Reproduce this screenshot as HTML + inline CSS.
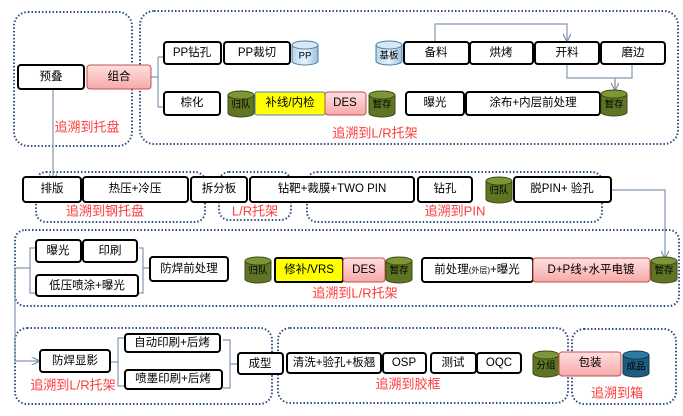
<!DOCTYPE html>
<html><head><meta charset="utf-8"><style>
html,body{margin:0;padding:0;background:#fff;width:683px;height:416px;overflow:hidden}
svg{display:block}
text{font-family:"Liberation Sans","Noto Sans CJK SC",sans-serif;font-size:11.5px;fill:#000;text-anchor:middle;dominant-baseline:central}
.r{fill:#ff3b3b;font-size:13px}
.b{fill:#fff;stroke:#000;stroke-width:2}
.p{fill:url(#pk);stroke:#c0504d;stroke-width:1}
.y{fill:#ffff00;stroke:#4f81bd;stroke-width:1}
.d{fill:none;stroke:#2f4f85;stroke-width:2;stroke-dasharray:1.5 2}
.c{fill:none;stroke:#8497b0;stroke-width:1.2}
.s{font-size:9.5px}
</style></head><body>
<svg width="683" height="416" viewBox="0 0 683 416" xmlns="http://www.w3.org/2000/svg">
<defs>
<linearGradient id="pk" x1="0" y1="0" x2="0" y2="1"><stop offset="0" stop-color="#ffe0e0"/><stop offset="1" stop-color="#f7a9a9"/></linearGradient>
<linearGradient id="bl" x1="0" y1="0" x2="1" y2="0"><stop offset="0" stop-color="#b8d6ea"/><stop offset=".5" stop-color="#e6f2fa"/><stop offset="1" stop-color="#9cc2dc"/></linearGradient>
<marker id="ar" viewBox="0 0 10 10" refX="9" refY="5" markerWidth="7" markerHeight="7" orient="auto"><path d="M0,0 L10,5 L0,10" fill="none" stroke="#8497b0" stroke-width="1.5"/></marker>
<g id="cg"><path d="M0,4 v18 a13,4 0 0 0 26,0 v-18" fill="#5f7524" stroke="#3c4a14"/><ellipse cx="13" cy="4" rx="13" ry="4" fill="#7d9636" stroke="#3c4a14"/></g>
</defs>

<!-- dotted groups -->
<rect class="d" x="14" y="12" width="118" height="134" rx="14"/>
<rect class="d" x="140" y="11" width="538" height="133" rx="14"/>
<rect class="d" x="36" y="172" width="169" height="50" rx="10"/>
<rect class="d" x="219" y="172" width="72" height="48" rx="10"/>
<rect class="d" x="307" y="172" width="295" height="50" rx="10"/>
<rect class="d" x="15" y="230" width="664" height="76" rx="10"/>
<rect class="d" x="15" y="328" width="257" height="76" rx="12"/>
<rect class="d" x="278" y="328" width="290" height="75" rx="12"/>
<rect class="d" x="572" y="329" width="104" height="75" rx="12"/>

<!-- connectors -->
<path class="c" d="M151,77 H158 M158,57 V107 M158,57 H164 M158,107 H164"/>
<path class="c" d="M435,42 V24 H567 V41" marker-end="url(#ar)"/>
<path class="c" d="M567,64 V78 H632 V64 M615,78 V90" />
<path class="c" d="M615,80 V90" marker-end="url(#ar)"/>
<path class="c" d="M53,89 V181" marker-end="url(#ar)"/>
<path class="c" d="M611,190 H665 V258" marker-end="url(#ar)"/>
<path class="c" d="M36,248 H30 V293 H36 M30,268 H15 V361 H39" marker-end="url(#ar)"/>
<path class="c" d="M139,248 H143 V293 H139 M143,268 H150"/>
<path class="c" d="M110,362 H118 M124,338 H118 V386 H124 M223,340 H230 V388 H223 M230,364 H238"/>

<!-- row1 -->
<rect class="b" x="18" y="65" width="66" height="24" rx="3"/><text x="51" y="77">预叠</text>
<rect class="p" x="87" y="65" width="64" height="24" rx="3"/><text x="119" y="77">组合</text>
<rect class="b" x="164" y="42" width="57" height="22" rx="3"/><text x="192" y="53">PP钻孔</text>
<rect class="b" x="224" y="42" width="66" height="22" rx="3"/><text x="257" y="53">PP裁切</text>
<path d="M292,45 v16 a13,4 0 0 0 26,0 v-16" fill="url(#bl)" stroke="#4a7ea5"/><ellipse cx="305" cy="45" rx="13" ry="4" fill="#d4e8f5" stroke="#4a7ea5"/><text x="305" y="56" class="s">PP</text>
<rect class="b" x="164" y="92" width="56" height="23" rx="3"/><text x="192" y="103">棕化</text>
<use href="#cg" x="228" y="91"/><text x="241" y="105" class="s">归队</text>
<rect class="y" x="255" y="92" width="70" height="23" rx="2"/><text x="290" y="103">补线/内检</text>
<rect class="p" x="325" y="92" width="41" height="23" rx="3"/><text x="345" y="103">DES</text>
<use href="#cg" x="369" y="91"/><text x="382" y="105" class="s">暂存</text>
<path d="M376,45 v16 a13,4 0 0 0 26,0 v-16" fill="url(#bl)" stroke="#4a7ea5"/><ellipse cx="389" cy="45" rx="13" ry="4" fill="#d4e8f5" stroke="#4a7ea5"/><text x="389" y="56" class="s">基板</text>
<rect class="b" x="404" y="42" width="65" height="22" rx="3"/><text x="436" y="53">备料</text>
<rect class="b" x="470" y="42" width="63" height="22" rx="3"/><text x="501" y="53">烘烤</text>
<rect class="b" x="535" y="42" width="64" height="22" rx="3"/><text x="567" y="53">开料</text>
<rect class="b" x="601" y="42" width="64" height="22" rx="3"/><text x="633" y="53">磨边</text>
<rect class="b" x="406" y="92" width="58" height="23" rx="3"/><text x="435" y="103">曝光</text>
<rect class="b" x="466" y="92" width="134" height="23" rx="3"/><text x="533" y="103">涂布+内层前处理</text>
<use href="#cg" x="601" y="90"/><text x="614" y="105" class="s">暂存</text>
<text class="r" x="87" y="127">追溯到托盘</text>
<text class="r" x="375" y="133">追溯到L/R托架</text>

<!-- row2 -->
<rect class="b" x="23" y="177" width="58" height="25" rx="3"/><text x="52" y="189">排版</text>
<rect class="b" x="83" y="177" width="105" height="25" rx="3"/><text x="135" y="189">热压+冷压</text>
<rect class="b" x="191" y="177" width="56" height="25" rx="3"/><text x="219" y="189">拆分板</text>
<rect class="b" x="250" y="177" width="164" height="25" rx="3"/><text x="332" y="189">钻靶+裁膜+TWO PIN</text>
<rect class="b" x="418" y="177" width="54" height="25" rx="3"/><text x="445" y="189">钻孔</text>
<use href="#cg" x="486" y="177"/><text x="499" y="191" class="s">归队</text>
<rect class="b" x="514" y="177" width="97" height="25" rx="3"/><text x="562" y="189">脱PIN+ 验孔</text>
<text class="r" x="105" y="211">追溯到钢托盘</text>
<text class="r" x="255" y="211">L/R托架</text>
<text class="r" x="455" y="211">追溯到PIN</text>

<!-- row3 -->
<rect class="b" x="36" y="240" width="45" height="22" rx="3"/><text x="58" y="251">曝光</text>
<rect class="b" x="83" y="240" width="54" height="22" rx="3"/><text x="110" y="251">印刷</text>
<rect class="b" x="36" y="275" width="102" height="21" rx="3"/><text x="87" y="286">低压喷涂+曝光</text>
<rect class="b" x="150" y="257" width="78" height="24" rx="3"/><text x="189" y="269">防焊前处理</text>
<use href="#cg" x="245" y="257"/><text x="258" y="271" class="s">归队</text>
<rect x="275" y="258" width="68" height="24" rx="2" fill="#ffff00" stroke="#000" stroke-width="2"/><text x="309" y="270">修补/VRS</text>
<rect class="p" x="343" y="258" width="42" height="24" rx="3"/><text x="364" y="270">DES</text>
<use href="#cg" x="386" y="257"/><text x="399" y="271" class="s">暂存</text>
<rect class="b" x="422" y="258" width="111" height="24" rx="3"/><text x="477" y="270">前处理<tspan style="font-size:8px">(外层)</tspan>+曝光</text>
<rect class="p" x="533" y="258" width="117" height="24" rx="3"/><text x="591" y="270">D+P线+水平电镀</text>
<use href="#cg" x="651" y="257"/><text x="664" y="271" class="s">暂存</text>
<text class="r" x="355" y="293">追溯到L/R托架</text>

<!-- row4 -->
<rect class="b" x="40" y="350" width="70" height="22" rx="3"/><text x="75" y="361">防焊显影</text>
<rect class="b" x="125" y="334" width="95" height="18" rx="3"/><text x="172" y="343">自动印刷+后烤</text>
<rect class="b" x="125" y="370" width="97" height="19" rx="3"/><text x="173" y="379">喷墨印刷+后烤</text>
<rect class="b" x="238" y="353" width="45" height="21" rx="3"/><text x="260" y="364">成型</text>
<rect class="b" x="287" y="353" width="94" height="20" rx="3"/><text x="334" y="363">清洗+验孔+板翘</text>
<rect class="b" x="383" y="353" width="43" height="20" rx="3"/><text x="404" y="363">OSP</text>
<rect class="b" x="431" y="353" width="45" height="20" rx="3"/><text x="453" y="363">测试</text>
<rect class="b" x="477" y="353" width="44" height="20" rx="3"/><text x="499" y="363">OQC</text>
<use href="#cg" x="533" y="351"/><text x="546" y="366" class="s">分组</text>
<rect class="p" x="559" y="352" width="62" height="24" rx="3"/><text x="590" y="363">包装</text>
<path d="M623,355 v18 a13,4 0 0 0 26,0 v-18" fill="#1d5c7e" stroke="#0f3a52"/><ellipse cx="636" cy="355" rx="13" ry="4" fill="#2f7aa0" stroke="#0f3a52"/><text x="636" y="367" class="s">成品</text>
<text class="r" x="73" y="385">追溯到L/R托架</text>
<text class="r" x="408" y="384">追溯到胶框</text>
<text class="r" x="617" y="393">追溯到箱</text>
</svg>
</body></html>
